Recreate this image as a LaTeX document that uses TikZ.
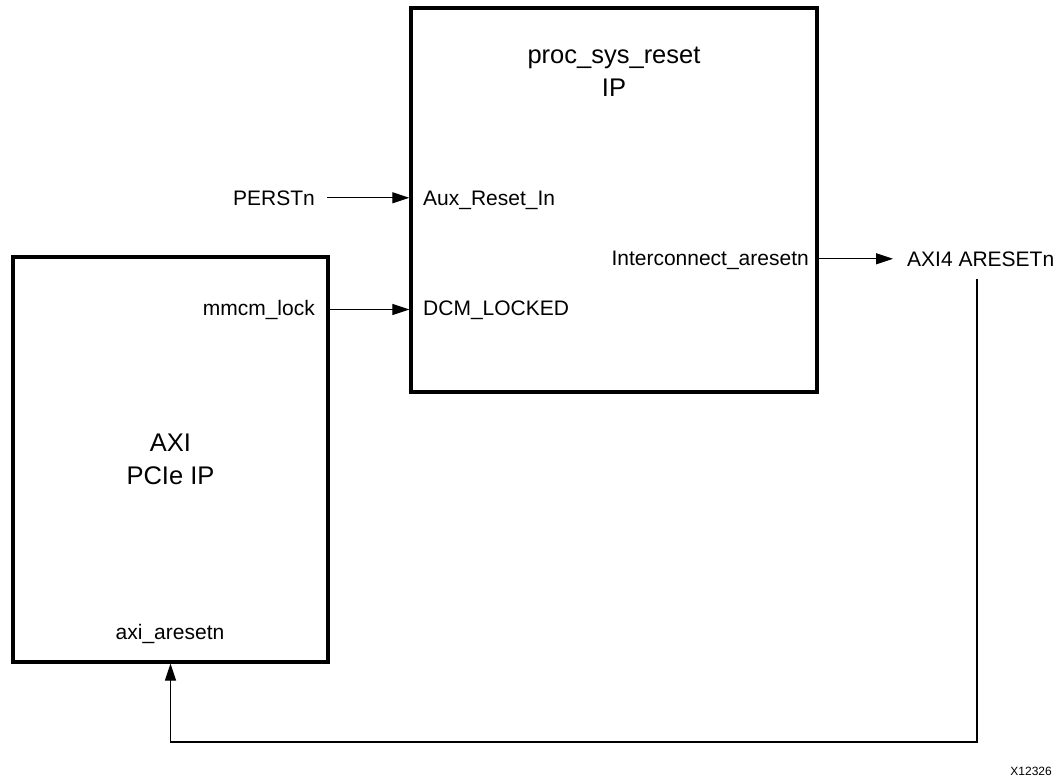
\documentclass[tikz,border=0pt]{standalone}
\usepackage{fontspec}
\setmainfont{Liberation Sans}
\usetikzlibrary{arrows.meta}
\pgfkeys{tikz/ipbox/.style={draw,line width=3.3pt,inner sep=0pt}}
\pgfkeys{tikz/iptitle/.style={font=\fontsize{25.5}{32.5}\selectfont,align=center,inner sep=0pt}}
\pgfkeys{tikz/portlabel/.style={font=\fontsize{21}{25}\selectfont,inner sep=0pt}}
\pgfkeys{tikz/wire/.style={line width=1.1pt,-{Triangle[length=17pt,width=11pt]}}}

\begin{document}
\begin{tikzpicture}[x=1pt,y=-1pt]
\useasboundingbox (0,0) rectangle (1058,777);

% blocks
\node [ipbox,minimum width=406pt,minimum height=384pt] (rst) at (614,200) {};
\node [ipbox,minimum width=315pt,minimum height=405pt] (pcie) at (170.5,459.5) {};
\node [iptitle] (rsttitle) at (614,72) {proc\_sys\_reset\\IP};
\node [iptitle] (pcietitle) at (pcie.center) {AXI\\PCIe IP};

% ports
\node [portlabel,anchor=base west] (auxin) at (423,205) {Aux\_Reset\_In};
\node [portlabel,anchor=base west] (dcm) at (423,315) {DCM\_LOCKED};
\node [portlabel,anchor=base east] (icon) at (809,265) {Interconnect\_aresetn};
\node [portlabel,anchor=base east] (mmcm) at (315,315) {mmcm\_lock};
\node [portlabel,anchor=base] (axirst) at (170,639) {axi\_aresetn};

% outside signals
\node [portlabel,anchor=base east,inner xsep=12pt] (perst) at (327,205) {PERSTn};
\node [portlabel,anchor=base west,inner xsep=14pt,inner ysep=13pt] (arst) at (893,266) {AXI4 ARESETn};
\coordinate (back) at (977,742);

\draw [wire] (perst) -- (perst -| rst.west);
\draw [wire] (pcie.east |- mmcm) -- (rst.west |- mmcm);
\draw [wire] (rst.east |- arst) -- (arst);
\draw [wire] (arst.south -| back) -- (back) -| (pcie.south);

\node [font=\fontsize{12}{14}\selectfont,anchor=base east,inner sep=0pt] (figid) at (1052,775) {X12326};
\end{tikzpicture}
\end{document}
